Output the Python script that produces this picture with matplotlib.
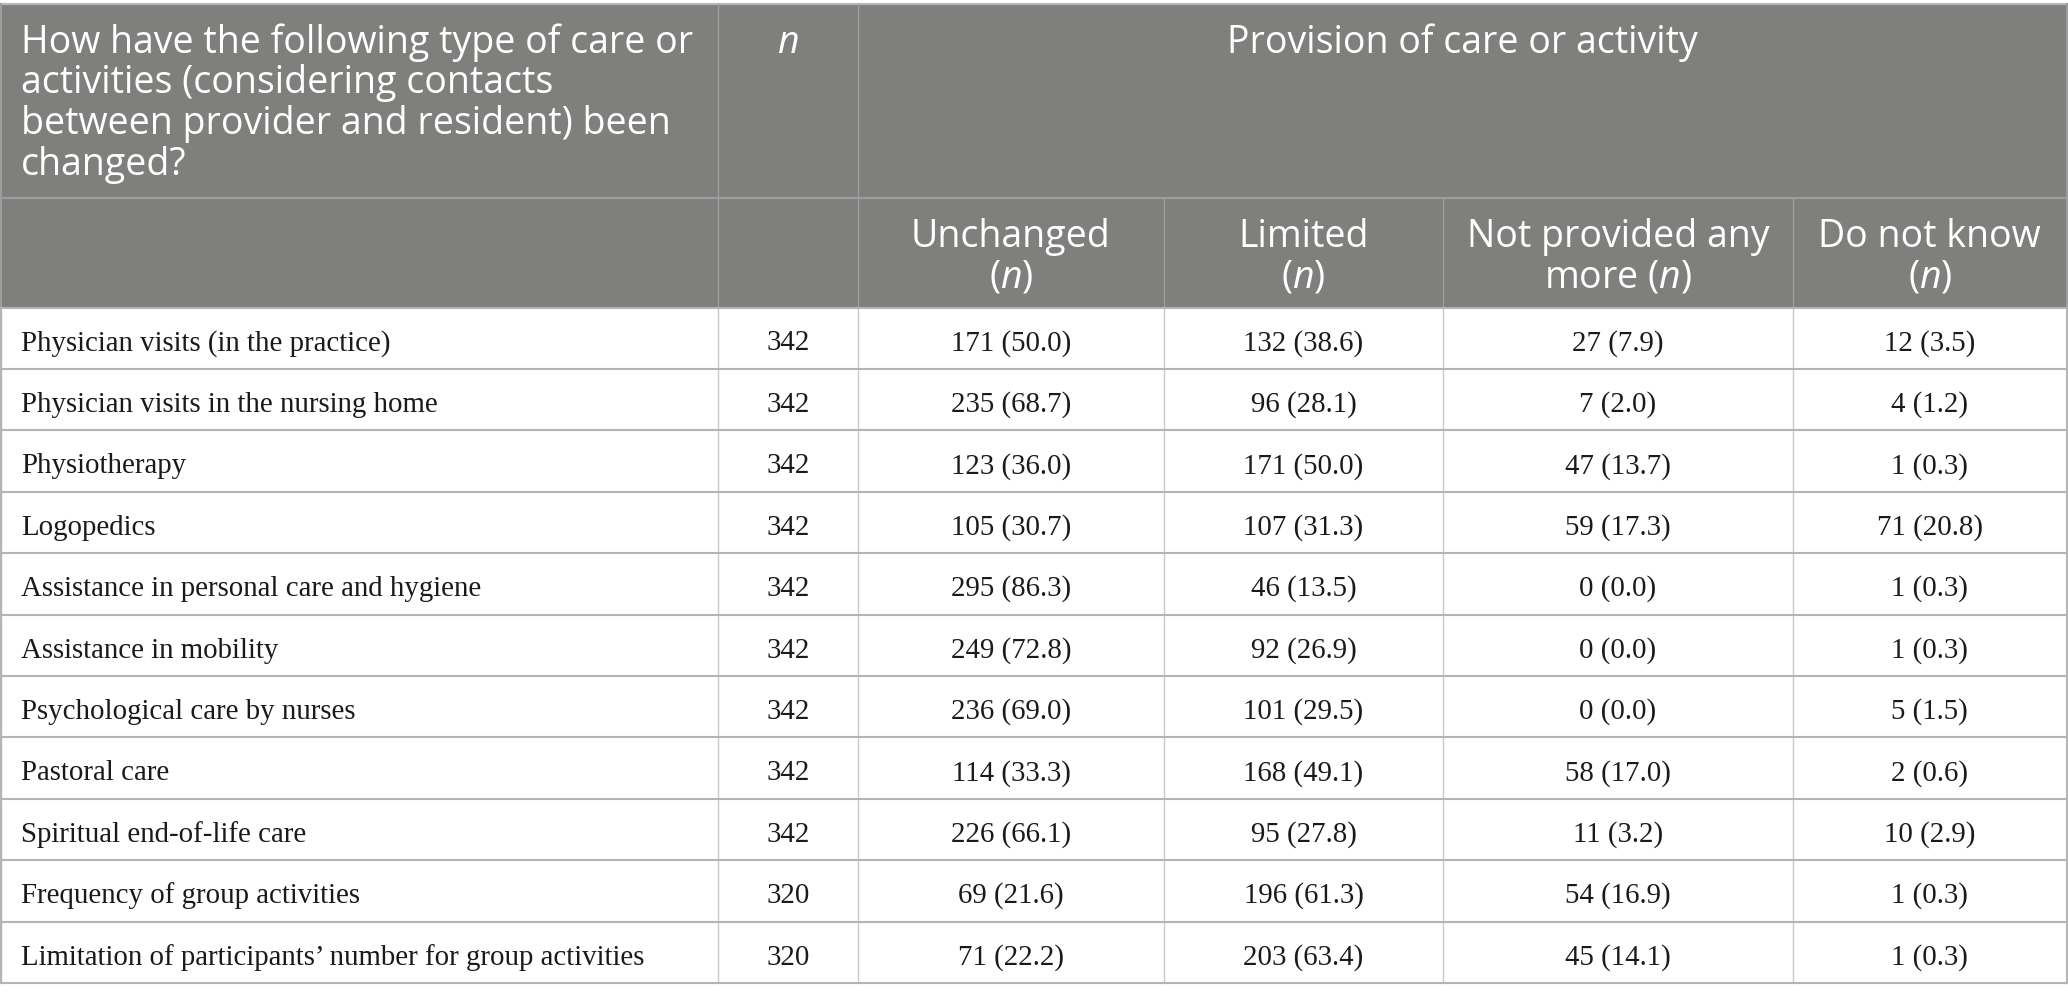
import matplotlib.pyplot as plt
import matplotlib as mpl

# フォント
mpl.rcParams['mathtext.fontset'] = 'custom'
mpl.rcParams['mathtext.rm'] = 'Open Sans'
mpl.rcParams['mathtext.it'] = 'Open Sans:italic'

# データ
items = [
    "Physician visits (in the practice)",
    "Physician visits in the nursing home",
    "Physiotherapy",
    "Logopedics",
    "Assistance in personal care and hygiene",
    "Assistance in mobility",
    "Psychological care by nurses",
    "Pastoral care",
    "Spiritual end-of-life care",
    "Frequency of group activities",
    "Limitation of participants\u2019 number for group activities",
]
n_total = [342, 342, 342, 342, 342, 342, 342, 342, 342, 320, 320]
unchanged = [171, 235, 123, 105, 295, 249, 236, 114, 226, 69, 71]
unchanged_pct = [50.0, 68.7, 36.0, 30.7, 86.3, 72.8, 69.0, 33.3, 66.1, 21.6, 22.2]
limited = [132, 96, 171, 107, 46, 92, 101, 168, 95, 196, 203]
limited_pct = [38.6, 28.1, 50.0, 31.3, 13.5, 26.9, 29.5, 49.1, 27.8, 61.3, 63.4]
not_provided = [27, 7, 47, 59, 0, 0, 0, 58, 11, 54, 45]
not_provided_pct = [7.9, 2.0, 13.7, 17.3, 0.0, 0.0, 0.0, 17.0, 3.2, 16.9, 14.1]
dont_know = [12, 4, 1, 71, 1, 1, 5, 2, 10, 1, 1]
dont_know_pct = [3.5, 1.2, 0.3, 20.8, 0.3, 0.3, 1.5, 0.6, 2.9, 0.3, 0.3]

question_lines = [
    "How have the following type of care or",
    "activities (considering contacts",
    "between provider and resident) been",
    "changed?",
]
group_header = "Provision of care or activity"
sub_headers = [
    ["Unchanged", r"($\mathit{n}$)"],
    ["Limited", r"($\mathit{n}$)"],
    ["Not provided any", r"more ($\mathit{n}$)"],
    ["Do not know", r"($\mathit{n}$)"],
]

# レイアウト（ピクセル座標）
W, H = 2068, 1001
col_x = [0.5, 718, 858, 1164, 1443, 1793, 2066.5]
top = 4
h1 = 198
h2 = 307.5
bottom = 983
row_h = (bottom - h2) / len(items)

head_bg = "#7f807e"
head_line = "#9c9d9c"
body_hline = "#b4b4b4"
body_vline = "#c8c8c8"

hfont = dict(family="Open Sans", size=27, color="white")
bfont = dict(family="Liberation Serif", size=20.8, color="#1a1a1a")
lead = 40.5

fig = plt.figure(figsize=(W / 100, H / 100), dpi=100)
ax = fig.add_axes([0, 0, 1, 1])
ax.set_xlim(0, W)
ax.set_ylim(H, 0)
ax.axis("off")

# ヘッダー背景
ax.add_patch(plt.Rectangle((col_x[0], top), col_x[-1] - col_x[0], h2 - top,
                           facecolor=head_bg, edgecolor="none", zorder=0))

# ヘッダー罫線
ax.plot([col_x[0], col_x[-1]], [top, top], color="#b8b8b8", lw=1.5, zorder=2)
ax.plot([col_x[0], col_x[-1]], [h1, h1], color=head_line, lw=1.5, zorder=2)
for x in col_x[1:3]:
    ax.plot([x, x], [top, h2], color=head_line, lw=1.0, zorder=2)
for x in col_x[3:6]:
    ax.plot([x, x], [h1, h2], color=head_line, lw=1.0, zorder=2)
ax.plot([col_x[0], col_x[0]], [top, h2], color=head_line, lw=1.5, zorder=2)
ax.plot([col_x[-1], col_x[-1]], [top, h2], color=head_line, lw=1.5, zorder=2)

# 本文罫線
for i in range(len(items) + 1):
    y = h2 + i * row_h
    ax.plot([col_x[0], col_x[-1]], [y, y], color=body_hline, lw=1.5, zorder=2)
for x in col_x:
    ax.plot([x, x], [h2, bottom], color=body_vline, lw=1.0, zorder=1)
ax.plot([col_x[0], col_x[0]], [h2, bottom], color=body_hline, lw=1.5, zorder=2)
ax.plot([col_x[-1], col_x[-1]], [h2, bottom], color=body_hline, lw=1.5, zorder=2)

# ヘッダー文字
base1 = 53
for k, line in enumerate(question_lines):
    ax.text(21, base1 + k * lead, line, ha="left", va="baseline", **hfont)
ax.text((col_x[1] + col_x[2]) / 2, base1, r"$\mathit{n}$", ha="center", va="baseline", **hfont)
ax.text((col_x[2] + col_x[-1]) / 2, base1, group_header, ha="center", va="baseline", **hfont)
for j, lines in enumerate(sub_headers):
    cx = (col_x[j + 2] + col_x[j + 3]) / 2
    for k, line in enumerate(lines):
        ax.text(cx, 247 + k * lead, line, ha="center", va="baseline", **hfont)

# 本文
cols = [
    (unchanged, unchanged_pct),
    (limited, limited_pct),
    (not_provided, not_provided_pct),
    (dont_know, dont_know_pct),
]
for i, item in enumerate(items):
    yb = h2 + i * row_h + 0.70 * row_h
    ax.text(21, yb, item, ha="left", va="baseline", **bfont)
    ax.text((col_x[1] + col_x[2]) / 2, yb, str(n_total[i]), ha="center", va="baseline", **bfont)
    for j, (cnt, pct) in enumerate(cols):
        cx = (col_x[j + 2] + col_x[j + 3]) / 2
        ax.text(cx, yb, f"{cnt[i]} ({pct[i]:.1f})", ha="center", va="baseline", **bfont)

fig.savefig("out.png", dpi=100, facecolor="white")
